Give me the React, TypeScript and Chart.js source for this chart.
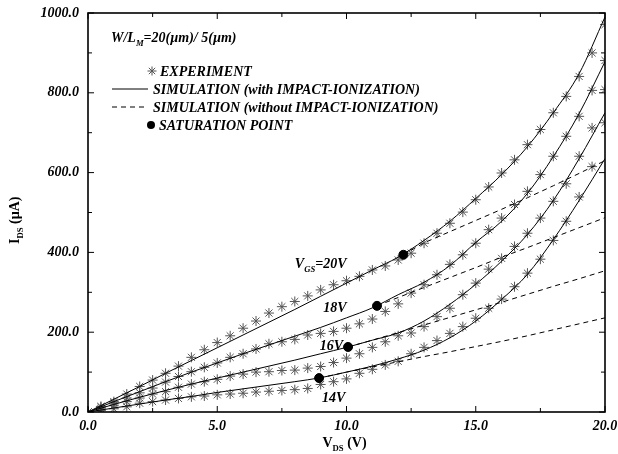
import React, { useEffect, useRef } from 'react';
import { Chart, registerables } from 'chart.js';
Chart.register(...registerables);

const FONT = "'Liberation Serif', 'Times New Roman', serif";

// Experimental VDS grid (V)
const vdsExp = [0,0.5,1,1.5,2,2.5,3,3.5,4,4.5,5,5.5,6,6.5,7,7.5,8,8.5,9,9.5,10,10.5,11,11.5,12,12.5,13,13.5,14,14.5,15,15.5,16,16.5,17,17.5,18,18.5,19,19.5,20];
// Experiment IDS (uA)
const exp20 = [0,14,26,45,64,80,97,115,137,156,174,191,210,228,248,264,277,291,306,319,329,340,356,366,381,398,423,448,473,501,532,564,599,632,670,708,750,791,841,900,971];
const exp18 = [0,12,23,35,48,60,75,89,101,112,123,137,146,158,171,176,182,193,197,202,210,221,233,252,271,298,319,344,370,394,423,457,486,520,553,595,641,691,741,806,881];
const exp16 = [0,8,17,26,35,45,51,62,70,76,82,90,95,100,101,104,105,110,114,124,135,146,162,176,191,198,214,239,260,294,323,358,385,415,448,486,528,572,641,712,808];
const exp14 = [0,4,8,13,22,26,30,34,38,40,43,45,47,50,52,54,56,59,69,76,83,97,107,118,127,146,162,179,197,214,235,260,283,314,348,383,430,478,539,615,725];

// Simulation with impact ionization
const vdsSim = [0,1,2,3,4,5,6,7,8,9,10,11,12,13,14,15,16,17,18,19,20];
const sim20 = [0,32,64,97,129,161,193,225,257,290,323,356,388,430,478,535,595,665,750,848,990];
const sim18 = [0,26,51,76,100,123,146,168,190,212,236,261,294,325,367,425,478,548,640,748,878];
const sim16 = [0,19,37,54,70,85,100,115,130,146,162,180,198,228,270,320,378,445,530,635,750];
const sim14 = [0,10,20,30,39,49,58,67,76,86,100,115,133,155,186,228,282,345,432,530,635];

// Simulation without impact ionization (from saturation point)
const vdsNo20 = [12.2,13,14,15,16,17,18,19,20];
const no20 = [394,424,452,480,508,537,567,598,630];
const vdsNo18 = [11.18,12,13,14,15,16,17,18,19,20];
const no18 = [266,287,312,337,362,388,412,437,462,487];
const vdsNo16 = [10.06,11,12,13,14,15,16,17,18,19,20];
const no16 = [163,180,199,218,237,256,275,295,315,334,354];
const vdsNo14 = [8.94,10,11,12,13,14,15,16,17,18,19,20];
const no14 = [85,100,113,126,139,151,164,177,191,206,221,236];

// Saturation points
const satVds = [12.2, 11.18, 10.06, 8.94];
const satIds = [394, 266, 163, 85];

// Ticks
const xMajor = [0, 5, 10, 15, 20];
const xMinor = [2.5, 7.5, 12.5, 17.5];
const yMajor = [0, 200, 400, 600, 800, 1000];
const yMinor = [100, 300, 500, 700, 900];

const toPts = (xs: number[], ys: number[]) => xs.map((x, i) => ({ x, y: ys[i] }));

type Part = { t: string; sub?: boolean };
function drawRich(ctx: CanvasRenderingContext2D, x: number, y: number, parts: Part[], size: number, style: string) {
  let cx = x;
  ctx.textAlign = 'left';
  ctx.textBaseline = 'alphabetic';
  for (const p of parts) {
    const s = p.sub ? size * 0.62 : size;
    ctx.font = `${style} ${s}px ${FONT}`;
    ctx.fillText(p.t, cx, p.sub ? y + size * 0.28 : y);
    cx += ctx.measureText(p.t).width;
  }
}

function drawStar(ctx: CanvasRenderingContext2D, x: number, y: number, r: number) {
  ctx.beginPath();
  for (let k = 0; k < 4; k++) {
    const a = (k * Math.PI) / 4;
    ctx.moveTo(x - r * Math.cos(a), y - r * Math.sin(a));
    ctx.lineTo(x + r * Math.cos(a), y + r * Math.sin(a));
  }
  ctx.stroke();
}

const decor = {
  id: 'decor',
  afterDraw(chart: any) {
    const { ctx, chartArea: ca, scales } = chart;
    const xs = scales.x, ys = scales.y;
    ctx.save();
    ctx.strokeStyle = '#000';
    ctx.fillStyle = '#000';
    // frame
    ctx.lineWidth = 1.6;
    ctx.strokeRect(ca.left, ca.top, ca.right - ca.left, ca.bottom - ca.top);
    // inward ticks on all sides
    ctx.lineWidth = 1;
    const tick = (vals: number[], len: number) => {
      ctx.beginPath();
      for (const v of vals) {
        const px = xs.getPixelForValue(v);
        ctx.moveTo(px, ca.bottom); ctx.lineTo(px, ca.bottom - len);
        ctx.moveTo(px, ca.top); ctx.lineTo(px, ca.top + len);
      }
      ctx.stroke();
    };
    const ticky = (vals: number[], len: number) => {
      ctx.beginPath();
      for (const v of vals) {
        const py = ys.getPixelForValue(v);
        ctx.moveTo(ca.left, py); ctx.lineTo(ca.left + len, py);
        ctx.moveTo(ca.right, py); ctx.lineTo(ca.right - len, py);
      }
      ctx.stroke();
    };
    tick(xMajor, 6); tick(xMinor, 4);
    ticky(yMajor, 6); ticky(yMinor, 4);

    // legend
    const bi = 'italic bold';
    drawRich(ctx, 111, 42, [{ t: 'W/L' }, { t: 'M', sub: true }, { t: '=20(\u00b5m)/ 5(\u00b5m)' }], 14, bi);
    ctx.strokeStyle = '#555';
    drawStar(ctx, 152, 71, 4.5);
    ctx.strokeStyle = '#000';
    drawRich(ctx, 160, 76, [{ t: 'EXPERIMENT' }], 14, bi);
    ctx.beginPath(); ctx.moveTo(112, 89); ctx.lineTo(148, 89); ctx.stroke();
    drawRich(ctx, 153, 94, [{ t: 'SIMULATION (with IMPACT-IONIZATION)' }], 14, bi);
    ctx.setLineDash([5, 4]);
    ctx.beginPath(); ctx.moveTo(112, 107); ctx.lineTo(148, 107); ctx.stroke();
    ctx.setLineDash([]);
    drawRich(ctx, 153, 112, [{ t: 'SIMULATION (without IMPACT-IONIZATION)' }], 14, bi);
    ctx.beginPath(); ctx.arc(151, 125, 4, 0, Math.PI * 2); ctx.fill();
    drawRich(ctx, 159, 130, [{ t: 'SATURATION POINT' }], 14, bi);

    // curve labels
    const lab = (vx: number, vy: number, parts: Part[]) =>
      drawRich(ctx, xs.getPixelForValue(vx), ys.getPixelForValue(vy), parts, 14, bi);
    lab(8.0, 361, [{ t: 'V' }, { t: 'GS', sub: true }, { t: '=20V' }]);
    lab(9.1, 251, [{ t: '18V' }]);
    lab(8.97, 156, [{ t: '16V' }]);
    lab(9.05, 25, [{ t: '14V' }]);

    // axis titles
    const xm = (ca.left + ca.right) / 2;
    drawRich(ctx, xm - 24, 447, [{ t: 'V' }, { t: 'DS', sub: true }, { t: ' (V)' }], 14, 'bold');
    ctx.save();
    ctx.translate(19, 244);
    ctx.rotate(-Math.PI / 2);
    drawRich(ctx, 0, 0, [{ t: 'I' }, { t: 'DS', sub: true }, { t: ' (\u00b5A)' }], 14, 'bold');
    ctx.restore();
    ctx.restore();
  },
};

export default function App() {
  const ref = useRef<HTMLCanvasElement>(null);
  useEffect(() => {
    if (!ref.current) return;
    const starDs = (data: number[]) => ({
      data: toPts(vdsExp, data),
      showLine: false,
      pointStyle: 'star',
      pointRadius: 5,
      borderColor: '#555',
      backgroundColor: '#555',
      borderWidth: 1,
    });
    const simDs = (data: number[]) => ({
      data: toPts(vdsSim, data),
      showLine: true,
      pointRadius: 0,
      borderColor: '#000',
      borderWidth: 1,
      cubicInterpolationMode: 'monotone',
    });
    const noDs = (xs: number[], data: number[]) => ({
      data: toPts(xs, data),
      showLine: true,
      pointRadius: 0,
      borderColor: '#000',
      borderWidth: 1,
      borderDash: [5, 4],
    });
    const tickFont = { family: FONT, size: 14, weight: 'bold', style: 'italic' };
    const chart = new Chart(ref.current, {
      type: 'scatter',
      data: {
        datasets: [
          {
            data: toPts(satVds, satIds),
            showLine: false,
            pointStyle: 'circle',
            pointRadius: 4.5,
            backgroundColor: '#000',
            borderColor: '#000',
          },
          simDs(sim20), simDs(sim18), simDs(sim16), simDs(sim14),
          noDs(vdsNo20, no20), noDs(vdsNo18, no18), noDs(vdsNo16, no16), noDs(vdsNo14, no14),
          starDs(exp20), starDs(exp18), starDs(exp16), starDs(exp14),
        ] as any,
      },
      options: {
        animation: false,
        responsive: false,
        layout: { autoPadding: false, padding: { top: 13, right: 13, left: 0, bottom: 0 } },
        plugins: { legend: { display: false }, tooltip: { enabled: false } },
        scales: {
          x: {
            type: 'linear', min: 0, max: 20,
            grid: { display: false, drawTicks: false },
            border: { display: false },
            ticks: { stepSize: 5, padding: 6, color: '#000', font: tickFont as any, callback: (v: any) => Number(v).toFixed(1) },
            afterFit: (s: any) => { s.height = 42; s.paddingLeft = 0; s.paddingRight = 0; },
          },
          y: {
            type: 'linear', min: 0, max: 1000,
            grid: { display: false, drawTicks: false },
            border: { display: false },
            ticks: { stepSize: 200, padding: 9, color: '#000', font: tickFont as any, callback: (v: any) => Number(v).toFixed(1) },
            afterFit: (s: any) => { s.width = 88; s.paddingTop = 0; s.paddingBottom = 0; },
          },
        },
      },
      plugins: [decor],
    } as any);
    return () => chart.destroy();
  }, []);
  return (
    <div style={{ position: 'fixed', left: 0, top: 0, width: 618, height: 454, background: '#fff' }}>
      <canvas ref={ref} width={618} height={454} />
    </div>
  );
}
